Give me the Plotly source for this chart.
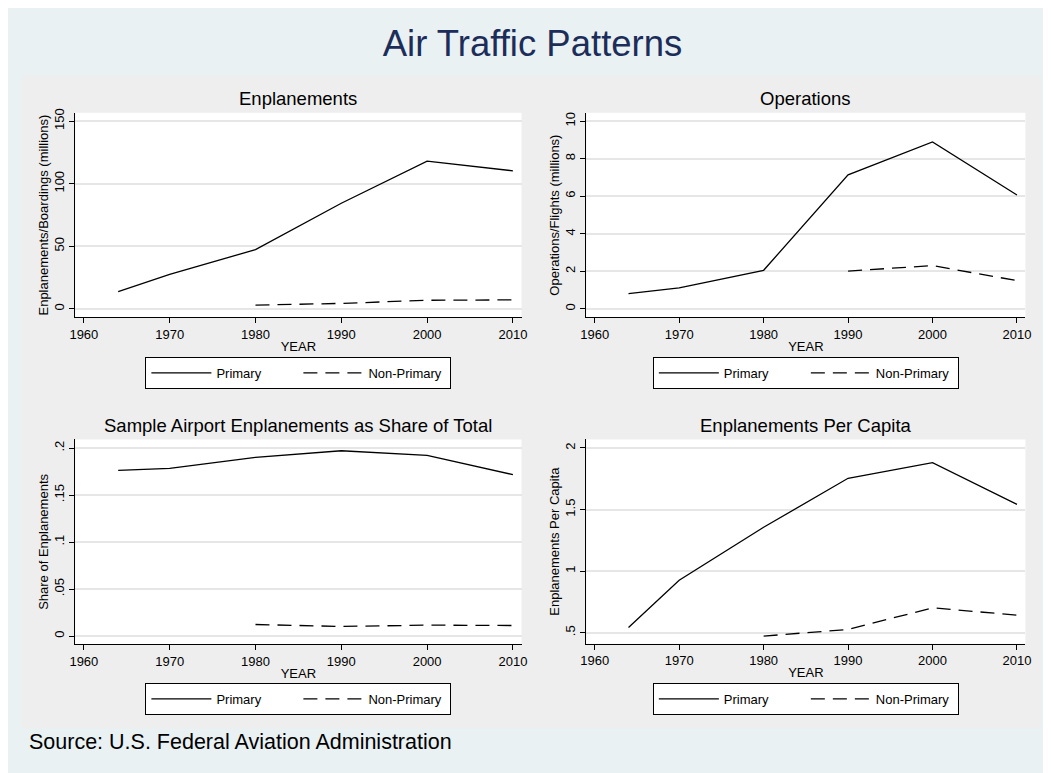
import plotly.graph_objects as go

# ---------------- data ----------------
years = [1964, 1970, 1980, 1990, 2000, 2010]

enpl_primary = [13.7, 27.5, 47.3, 84.4, 118.0, 110.3]
enpl_nonprimary = [None, None, 2.9, 4.3, 6.8, 7.1]

ops_primary = [0.81, 1.11, 2.05, 7.14, 8.89, 6.06]
ops_nonprimary = [None, None, None, 2.01, 2.30, 1.50]

share_primary = [0.1763, 0.1784, 0.1900, 0.1971, 0.1922, 0.1717]
share_nonprimary = [None, None, 0.0123, 0.0102, 0.0116, 0.0112]

percap_primary = [0.543, 0.926, 1.356, 1.754, 1.881, 1.542]
percap_nonprimary = [None, None, 0.473, 0.527, 0.702, 0.643]

x_ticks = [1960, 1970, 1980, 1990, 2000, 2010]
y1_ticks = [0, 50, 100, 150]
y1_text = ["0", "50", "100", "150"]
y2_ticks = [0, 2, 4, 6, 8, 10]
y2_text = ["0", "2", "4", "6", "8", "10"]
y3_ticks = [0, 0.05, 0.1, 0.15, 0.2]
y3_text = ["0", ".05", ".1", ".15", ".2"]
y4_ticks = [0.5, 1, 1.5, 2]
y4_text = [".5", "1", "1.5", "2"]

panel_titles = ["Enplanements", "Operations",
                "Sample Airport Enplanements as Share of Total", "Enplanements Per Capita"]
y_titles = ["Enplanements/Boardings (millions)", "Operations/Flights (millions)",
            "Share of Enplanements", "Enplanements Per Capita"]
series_names = ["Primary", "Non-Primary"]

# ---------------- style ----------------
W, H = 1051, 773
FONT = "Liberation Sans, Arial, Helvetica, sans-serif"
BLUE_BG = "#E9F1F3"
GRAY_BG = "#EEEEEE"
GRID = "#E6E6E6"
TITLE_COLOR = "#1C2D5A"

# screen -> figure mapping (measured from the rendered page)
SX_OFF, SX_SCALE, SY_OFF = 14.1, 0.9874, 8.0

def px_x(v):
    return ((v - SX_OFF) / SX_SCALE) / W

def px_y(v):
    return 1 - (v - SY_OFF) / H

# plot-area pixel boxes in screen coords (left, right, top, bottom)
boxes = [(75.3, 521.0, 109.3, 315.0), (585.7, 1024.3, 109.3, 315.0),
         (75.3, 521.0, 437.7, 643.7), (585.7, 1024.3, 437.7, 643.0)]
y_ranges = [[-6.9, 156.7], [-0.461, 10.445], [-0.0089, 0.2091], [0.411, 2.069]]
x_range = [1959.0, 2011.0]

primaries = [enpl_primary, ops_primary, share_primary, percap_primary]
nonprimaries = [enpl_nonprimary, ops_nonprimary, share_nonprimary, percap_nonprimary]
yticks = [(y1_ticks, y1_text), (y2_ticks, y2_text), (y3_ticks, y3_text), (y4_ticks, y4_text)]

fig = go.Figure()

layout = dict(
    width=W, height=H, autosize=False,
    margin=dict(l=0, r=0, t=0, b=0),
    paper_bgcolor=BLUE_BG, plot_bgcolor=BLUE_BG,
    font=dict(family=FONT, size=13, color="black"),
    showlegend=True,
    title=dict(text="Air Traffic Patterns", x=px_x(532), xanchor="center",
               y=px_y(43), yanchor="middle", yref="container",
               font=dict(family=FONT, size=36.5, color=TITLE_COLOR)),
)

shapes = [
    dict(type="rect", xref="paper", yref="paper", x0=px_x(22), x1=px_x(1040),
         y0=px_y(728), y1=px_y(72), fillcolor=GRAY_BG, line=dict(width=0), layer="below"),
]
annotations = []

for i in range(4):
    n = i + 1
    xa = "xaxis" if n == 1 else f"xaxis{n}"
    ya = "yaxis" if n == 1 else f"yaxis{n}"
    xr = "x" if n == 1 else f"x{n}"
    yr = "y" if n == 1 else f"y{n}"
    lg = "legend" if n == 1 else f"legend{n}"
    l, r, t, b = boxes[i]

    fig.add_trace(go.Scatter(x=years, y=primaries[i], mode="lines", name=series_names[0],
                             line=dict(color="black", width=1.3), xaxis=xr, yaxis=yr,
                             legend=lg, connectgaps=False))
    fig.add_trace(go.Scatter(x=years, y=nonprimaries[i], mode="lines", name=series_names[1],
                             line=dict(color="black", width=1.3, dash="14px,8px"),
                             xaxis=xr, yaxis=yr, legend=lg, connectgaps=False))

    layout[xa] = dict(domain=[px_x(l), px_x(r)], range=x_range, anchor=yr,
                      tickvals=x_ticks, ticks="outside", ticklen=5, tickwidth=1,
                      tickcolor="black", showline=True, linecolor="black", linewidth=1,
                      showgrid=False, zeroline=False, tickfont=dict(size=13),
                      title=dict(text="YEAR", font=dict(size=13), standoff=0))
    layout[ya] = dict(domain=[px_y(b), px_y(t)], range=y_ranges[i], anchor=xr,
                      tickvals=yticks[i][0], ticktext=yticks[i][1], tickangle=-90,
                      ticks="outside", ticklen=5, tickwidth=1, tickcolor="black",
                      showline=True, linecolor="black", linewidth=1,
                      showgrid=True, gridcolor=GRID, gridwidth=1.5, zeroline=False,
                      tickfont=dict(size=13),
                      title=dict(text=y_titles[i], font=dict(size=13), standoff=0))

    # white plot region
    shapes.append(dict(type="rect", xref=f"{xr} domain", yref=f"{yr} domain",
                       x0=0, x1=1, y0=0, y1=1, fillcolor="white",
                       line=dict(width=0), layer="below"))

    # panel title
    annotations.append(dict(text=panel_titles[i], xref=f"{xr} domain", yref="paper",
                            x=0.5, xanchor="center", y=px_y(t - 14), yanchor="middle",
                            showarrow=False, font=dict(size=18.5, color="black")))

    leg_mid = 370.8 if i < 2 else 698.5
    layout[lg] = dict(orientation="h", x=px_x((l + r) / 2), xanchor="center",
                      y=px_y(leg_mid), yanchor="middle", xref="paper", yref="paper",
                      bgcolor="white", bordercolor="black", borderwidth=1,
                      font=dict(size=13), itemwidth=60, entrywidth=77,
                      entrywidthmode="pixels", tracegroupgap=0)

annotations.append(dict(text="Source: U.S. Federal Aviation Administration",
                        xref="paper", yref="paper", x=px_x(27), xanchor="left",
                        y=px_y(742), yanchor="middle", showarrow=False,
                        font=dict(size=21.5, color="black")))

layout["shapes"] = shapes
layout["annotations"] = annotations
fig.update_layout(**layout)

fig.write_html("out.html")
